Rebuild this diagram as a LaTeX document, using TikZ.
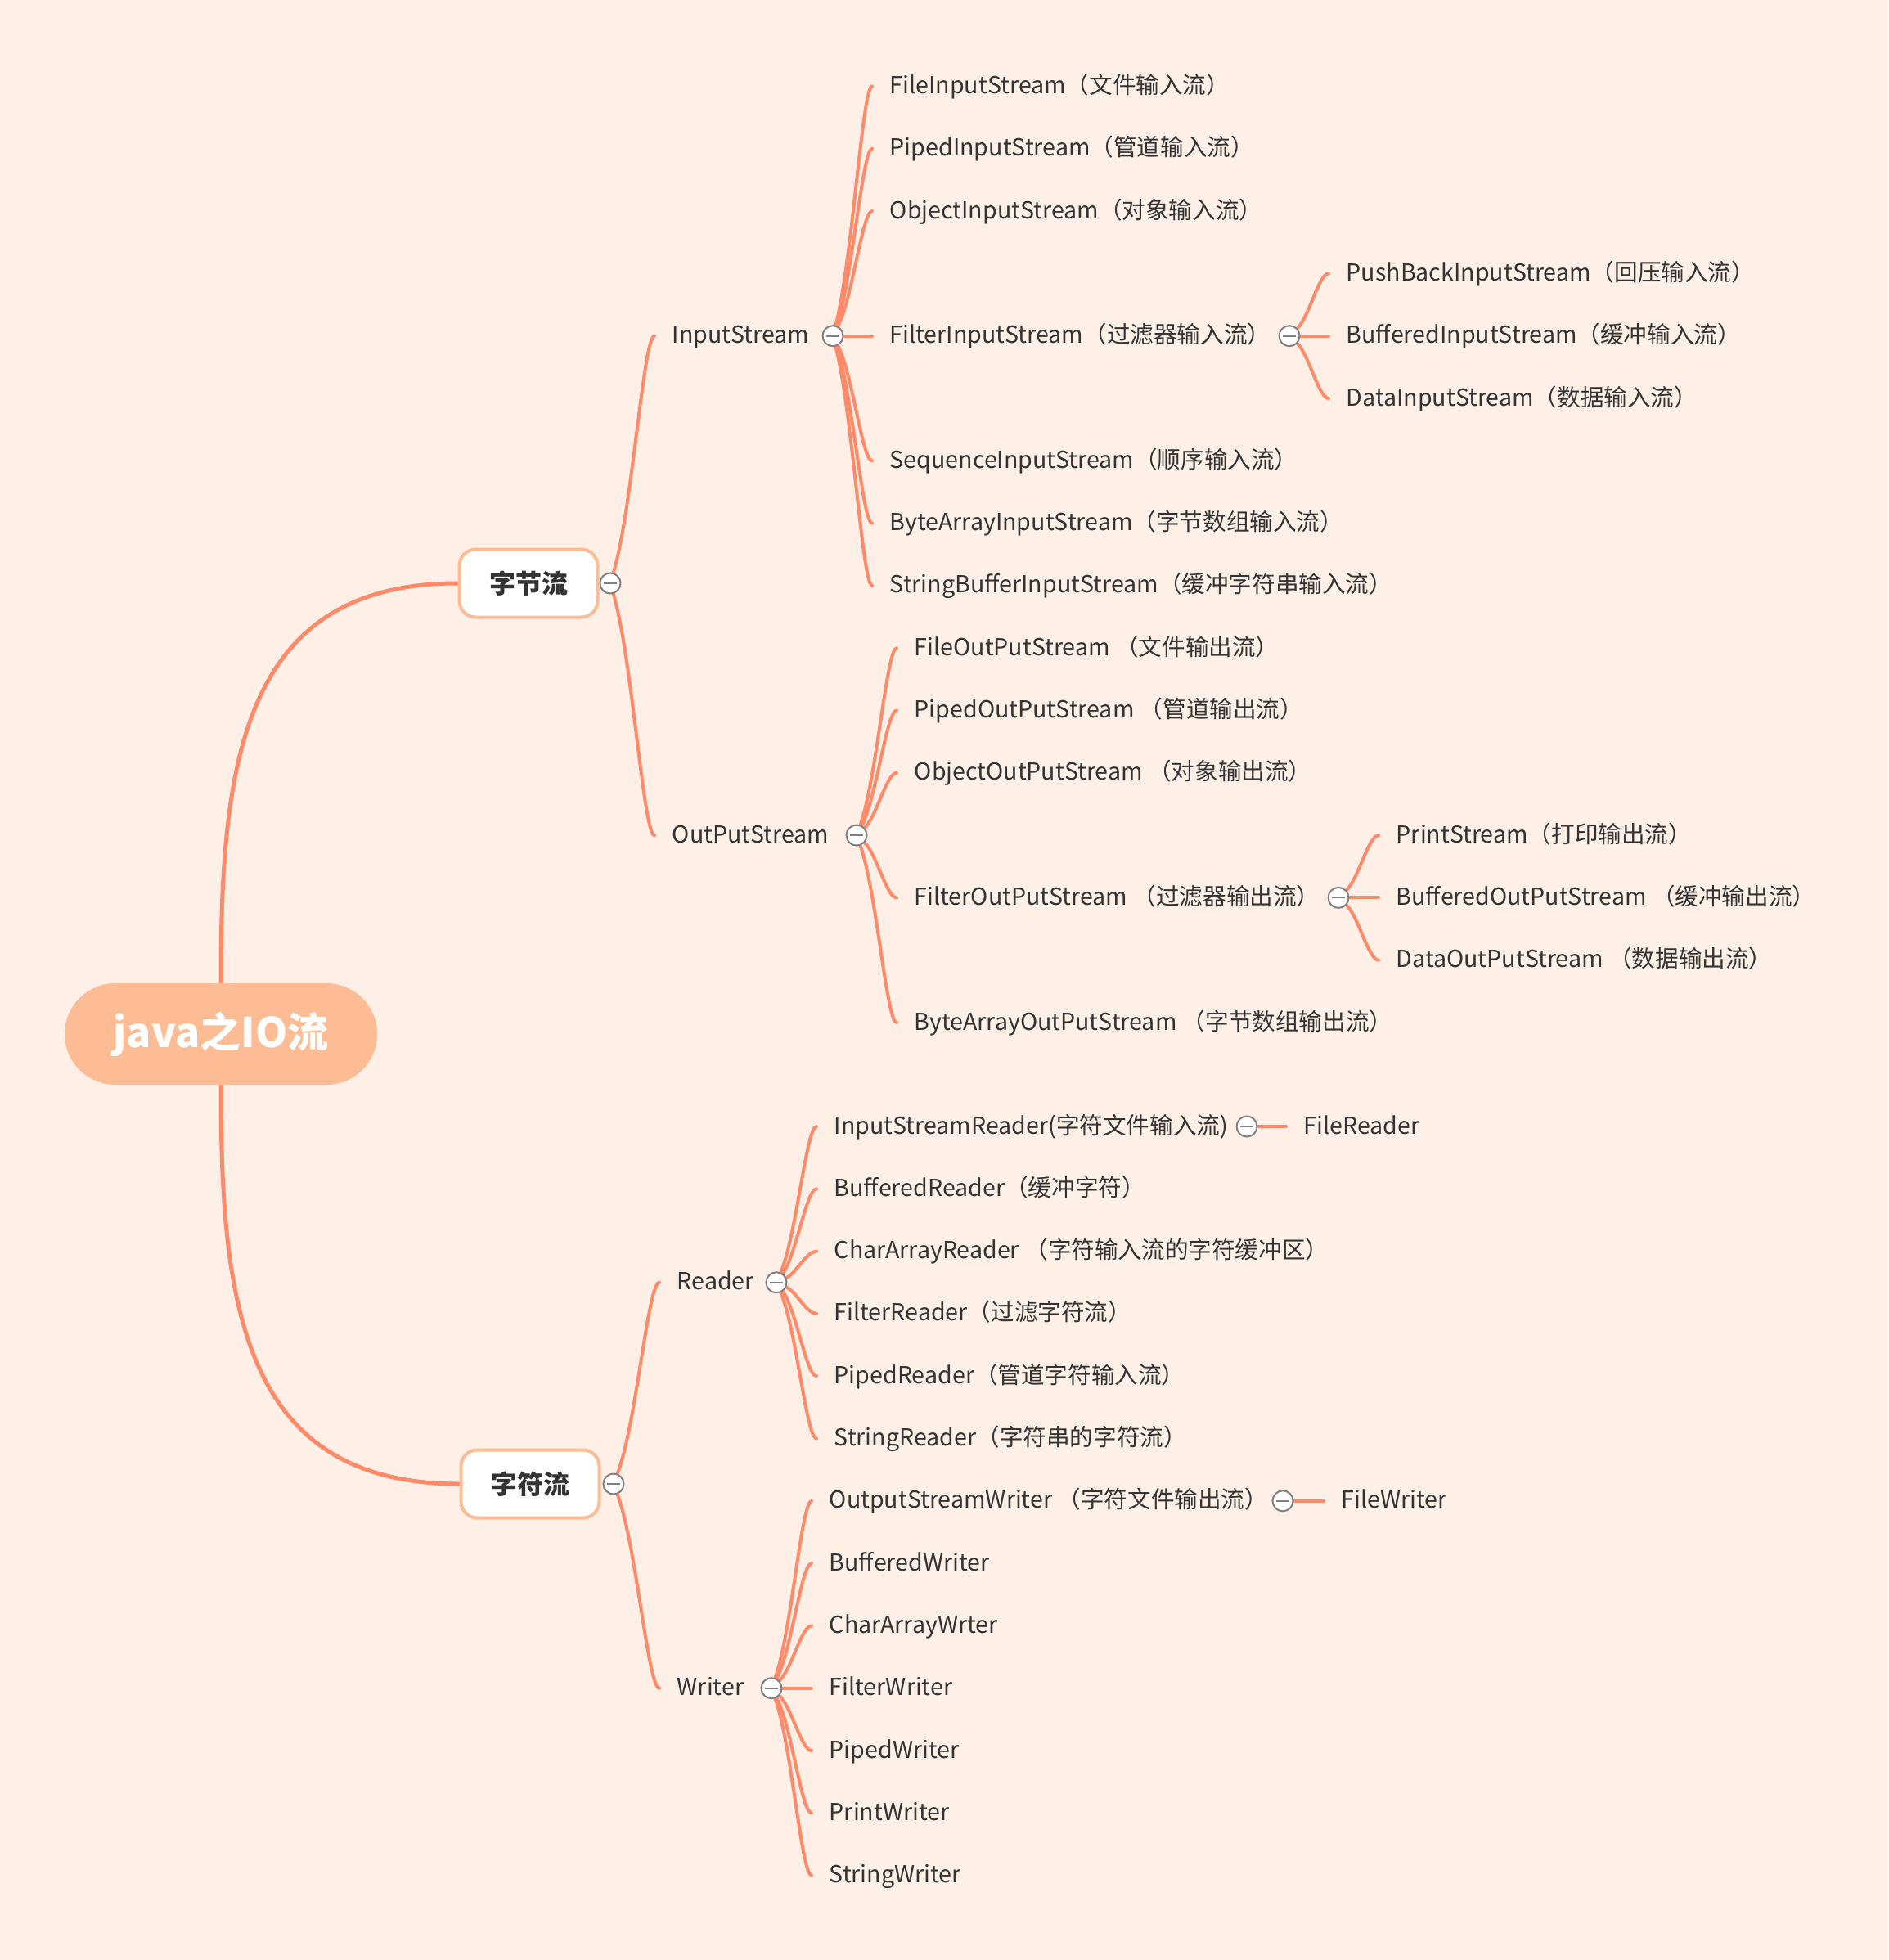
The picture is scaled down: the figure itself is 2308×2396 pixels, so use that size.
\documentclass[tikz,border=0pt]{standalone}
\usepackage{fontspec}
\setmainfont{Noto Sans CJK SC}
\usetikzlibrary{math,calc}

\definecolor{paper}{HTML}{FEF0E6}
\definecolor{linkc}{HTML}{FF8A69}
\definecolor{rootc}{HTML}{FDBC94}
\definecolor{boxc}{HTML}{FDBC94}
\definecolor{inkc}{HTML}{333333}
\definecolor{togglec}{HTML}{808080}

\pgfdeclarelayer{bg}
\pgfdeclarelayer{links}
\pgfsetlayers{bg,links,main}

\tikzset{
	topic/.style={anchor=west, inner xsep=10.7pt, inner ysep=0pt, text height=1em, text depth=0.1em,
		text=inkc, font=\fontsize{14.3pt}{17pt}\selectfont},
	rootbox/.style={fill=rootc, rounded corners=31pt, minimum width=191pt, minimum height=62pt,
		text=white, font=\bfseries\fontsize{25pt}{30pt}\selectfont},
	groupbox/.style={draw=boxc, line width=2pt, fill=white, rounded corners=10pt, minimum width=84.5pt,
		minimum height=41.5pt, text=inkc, font=\bfseries\fontsize{16pt}{19pt}\selectfont},
	toggle/.style={circle, draw=togglec, line width=1pt, fill=white, minimum size=12.5pt, inner sep=0pt,
		path picture={\draw[togglec, line width=1pt] ([xshift=-4pt]path picture bounding box.center)
			-- ([xshift=4pt]path picture bounding box.center);}},
	trunk/.style={draw=linkc, line width=2.5pt, line cap=round, looseness=1.2},
	branch/.style={draw=linkc, line width=2pt, line cap=round,
		to path={let \p1=(\tikztostart), \p2=(\tikztotarget) in
			.. controls ({\x1+0.5*(\x2-\x1)},{\y1+0.3*(\y2-\y1)}) and ({\x1+0.75*(\x2-\x1)},\y2) .. (\tikztotarget)}},
}

\begin{document}
\begin{tikzpicture}[x=0.5pt, y=-0.5pt]
	% Constants
	\tikzmath{\rowstep = 76.3; \bytetop = 105.5; \chartop = 1377;}

	\begin{pgfonlayer}{bg}
		\fill[paper] (0,0) rectangle (2308,2396);
	\end{pgfonlayer}
	\useasboundingbox (0,0) rectangle (2308,2396);

	% Root and groups
	\node[rootbox] (root) at (270,1264) {java之IO流};
	\node[groupbox] (byteGrp) at (646,713) {字节流};
	\node[toggle] (byteT) at (746,713) {};
	\node[groupbox] (charGrp) at (648,1814) {字符流};
	\node[toggle] (charT) at (750,1814) {};

	% InputStream
	\node[topic] (inS) at (800,{\bytetop+4*\rowstep}) {InputStream};
	\node[toggle] (inT) at (1018,{\bytetop+4*\rowstep}) {};
	\node[topic] (fileIn) at (1066,{\bytetop+0*\rowstep}) {FileInputStream（文件输入流）};
	\node[topic] (pipedIn) at (1066,{\bytetop+1*\rowstep}) {PipedInputStream（管道输入流）};
	\node[topic] (objIn) at (1066,{\bytetop+2*\rowstep}) {ObjectInputStream（对象输入流）};
	\node[topic] (filterIn) at (1066,{\bytetop+4*\rowstep}) {FilterInputStream（过滤器输入流）};
	\node[toggle] (filterInT) at (1576,{\bytetop+4*\rowstep}) {};
	\node[topic] (pushIn) at (1624,{\bytetop+3*\rowstep}) {PushBackInputStream（回压输入流）};
	\node[topic] (bufIn) at (1624,{\bytetop+4*\rowstep}) {BufferedInputStream（缓冲输入流）};
	\node[topic] (dataIn) at (1624,{\bytetop+5*\rowstep}) {DataInputStream（数据输入流）};
	\node[topic] (seqIn) at (1066,{\bytetop+6*\rowstep}) {SequenceInputStream（顺序输入流）};
	\node[topic] (arrIn) at (1066,{\bytetop+7*\rowstep}) {ByteArrayInputStream（字节数组输入流）};
	\node[topic] (strIn) at (1066,{\bytetop+8*\rowstep}) {StringBufferInputStream（缓冲字符串输入流）};

	% OutPutStream
	\node[topic] (outS) at (800,{\bytetop+12*\rowstep}) {OutPutStream};
	\node[toggle] (outT) at (1047,{\bytetop+12*\rowstep}) {};
	\node[topic] (fileOut) at (1096,{\bytetop+9*\rowstep}) {FileOutPutStream （文件输出流）};
	\node[topic] (pipedOut) at (1096,{\bytetop+10*\rowstep}) {PipedOutPutStream （管道输出流）};
	\node[topic] (objOut) at (1096,{\bytetop+11*\rowstep}) {ObjectOutPutStream （对象输出流）};
	\node[topic] (filterOut) at (1096,{\bytetop+13*\rowstep}) {FilterOutPutStream （过滤器输出流）};
	\node[toggle] (filterOutT) at (1636,{\bytetop+13*\rowstep}) {};
	\node[topic] (printOut) at (1685,{\bytetop+12*\rowstep}) {PrintStream（打印输出流）};
	\node[topic] (bufOut) at (1685,{\bytetop+13*\rowstep}) {BufferedOutPutStream （缓冲输出流）};
	\node[topic] (dataOut) at (1685,{\bytetop+14*\rowstep}) {DataOutPutStream （数据输出流）};
	\node[topic] (arrOut) at (1096,{\bytetop+15*\rowstep}) {ByteArrayOutPutStream （字节数组输出流）};

	% Reader
	\node[topic] (rd) at (806,{\chartop+2.5*\rowstep}) {Reader};
	\node[toggle] (rdT) at (949,{\chartop+2.5*\rowstep}) {};
	\node[topic] (isRd) at (998,{\chartop+0*\rowstep}) {InputStreamReader(字符文件输入流)};
	\node[toggle] (isRdT) at (1524,{\chartop+0*\rowstep}) {};
	\node[topic] (fileRd) at (1572,{\chartop+0*\rowstep}) {FileReader};
	\node[topic] (bufRd) at (998,{\chartop+1*\rowstep}) {BufferedReader（缓冲字符）};
	\node[topic] (arrRd) at (998,{\chartop+2*\rowstep}) {CharArrayReader （字符输入流的字符缓冲区）};
	\node[topic] (filterRd) at (998,{\chartop+3*\rowstep}) {FilterReader（过滤字符流）};
	\node[topic] (pipedRd) at (998,{\chartop+4*\rowstep}) {PipedReader（管道字符输入流）};
	\node[topic] (strRd) at (998,{\chartop+5*\rowstep}) {StringReader（字符串的字符流）};

	% Writer
	\node[topic] (wr) at (806,{\chartop+9*\rowstep}) {Writer};
	\node[toggle] (wrT) at (943,{\chartop+9*\rowstep}) {};
	\node[topic] (osWr) at (992,{\chartop+6*\rowstep}) {OutputStreamWriter （字符文件输出流）};
	\node[toggle] (osWrT) at (1568,{\chartop+6*\rowstep}) {};
	\node[topic] (fileWr) at (1618,{\chartop+6*\rowstep}) {FileWriter};
	\node[topic] (bufWr) at (992,{\chartop+7*\rowstep}) {BufferedWriter};
	\node[topic] (arrWr) at (992,{\chartop+8*\rowstep}) {CharArrayWrter};
	\node[topic] (filterWr) at (992,{\chartop+9*\rowstep}) {FilterWriter};
	\node[topic] (pipedWr) at (992,{\chartop+10*\rowstep}) {PipedWriter};
	\node[topic] (printWr) at (992,{\chartop+11*\rowstep}) {PrintWriter};
	\node[topic] (strWr) at (992,{\chartop+12*\rowstep}) {StringWriter};

	% Links
	\begin{pgfonlayer}{links}
		\draw[trunk] (root.north) to[out=90,in=180] (byteGrp.west);
		\draw[trunk] (root.south) to[out=-90,in=180] (charGrp.west);

		\draw[branch] (byteT) to (inS.west);
		\draw[branch] (byteT) to (outS.west);
		\draw[branch] (charT) to (rd.west);
		\draw[branch] (charT) to (wr.west);

		\draw[branch] (inT) to (fileIn.west);
		\draw[branch] (inT) to (pipedIn.west);
		\draw[branch] (inT) to (objIn.west);
		\draw[branch] (inT) to (filterIn.west);
		\draw[branch] (inT) to (seqIn.west);
		\draw[branch] (inT) to (arrIn.west);
		\draw[branch] (inT) to (strIn.west);
		\draw[branch] (filterInT) to (pushIn.west);
		\draw[branch] (filterInT) to (bufIn.west);
		\draw[branch] (filterInT) to (dataIn.west);

		\draw[branch] (outT) to (fileOut.west);
		\draw[branch] (outT) to (pipedOut.west);
		\draw[branch] (outT) to (objOut.west);
		\draw[branch] (outT) to (filterOut.west);
		\draw[branch] (outT) to (arrOut.west);
		\draw[branch] (filterOutT) to (printOut.west);
		\draw[branch] (filterOutT) to (bufOut.west);
		\draw[branch] (filterOutT) to (dataOut.west);

		\draw[branch] (rdT) to (isRd.west);
		\draw[branch] (rdT) to (bufRd.west);
		\draw[branch] (rdT) to (arrRd.west);
		\draw[branch] (rdT) to (filterRd.west);
		\draw[branch] (rdT) to (pipedRd.west);
		\draw[branch] (rdT) to (strRd.west);
		\draw[branch] (isRdT) to (fileRd.west);

		\draw[branch] (wrT) to (osWr.west);
		\draw[branch] (wrT) to (bufWr.west);
		\draw[branch] (wrT) to (arrWr.west);
		\draw[branch] (wrT) to (filterWr.west);
		\draw[branch] (wrT) to (pipedWr.west);
		\draw[branch] (wrT) to (printWr.west);
		\draw[branch] (wrT) to (strWr.west);
		\draw[branch] (osWrT) to (fileWr.west);
	\end{pgfonlayer}
\end{tikzpicture}
\end{document}
